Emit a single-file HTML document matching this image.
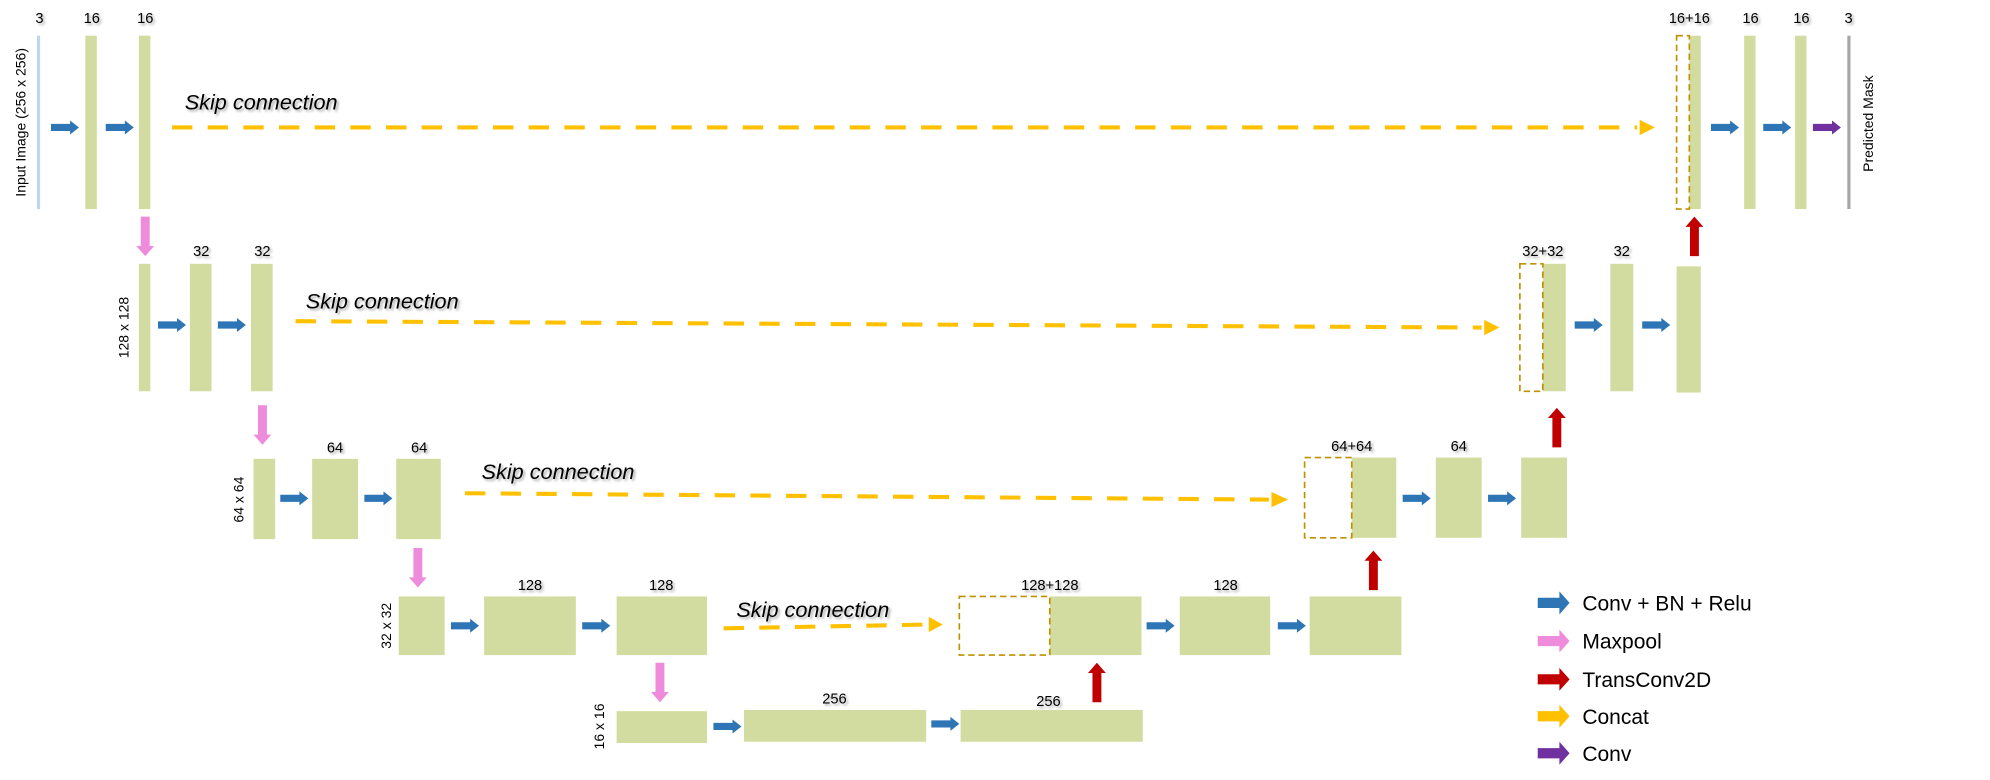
<!DOCTYPE html>
<html><head><meta charset="utf-8"><style>
html,body{margin:0;padding:0;background:#fff;}
svg{display:block;}
text{font-family:"Liberation Sans",sans-serif;}
.l{font-size:11.5px;fill:#000;text-anchor:middle;}
.s{font-size:17px;font-style:italic;fill:#000;}
.g{font-size:16.5px;fill:#000;}
.v{font-size:11px;fill:#000;text-anchor:middle;}
</style></head><body>
<svg width="1990" height="780" viewBox="0 0 1562 612" preserveAspectRatio="none" xmlns="http://www.w3.org/2000/svg">
<defs>
<filter id="sh" x="-5%" y="-20%" width="110%" height="150%"><feDropShadow dx="1.5" dy="1.5" stdDeviation="1" flood-color="#000" flood-opacity="0.35"/></filter>
<polygon id="ha" points="0,-2.8 15,-2.8 15,-5.5 22,0 15,5.5 15,2.8 0,2.8"/>
<polygon id="da" points="-3.5,0 3.5,0 3.5,23 7,23 0,31 -7,23 -3.5,23"/>
<polygon id="ua" points="-3.5,31 3.5,31 3.5,8 7,8 0,0 -7,8 -3.5,8"/>
</defs>
<g fill="#D3DCA0">
<!-- row1 -->
<rect x="67" y="28" width="9" height="136"/><rect x="109" y="28" width="9" height="136"/>
<rect x="1326" y="28" width="9" height="136"/><rect x="1369" y="28" width="9" height="136"/><rect x="1409" y="28" width="9" height="136"/>
<!-- row2 -->
<rect x="109" y="207" width="9" height="100"/><rect x="149" y="207" width="17" height="100"/><rect x="197" y="207" width="17" height="100"/>
<rect x="1211" y="207" width="18" height="100"/><rect x="1264" y="207" width="18" height="100"/><rect x="1316" y="209" width="19" height="99"/>
<!-- row3 -->
<rect x="199" y="360" width="17" height="63"/><rect x="245" y="360" width="36" height="63"/><rect x="311" y="360" width="35" height="63"/>
<rect x="1061" y="359" width="35" height="63"/><rect x="1127" y="359" width="36" height="63"/><rect x="1194" y="359" width="36" height="63"/>
<!-- row4 -->
<rect x="313" y="468" width="36" height="46"/><rect x="380" y="468" width="72" height="46"/><rect x="484" y="468" width="71" height="46"/>
<rect x="824" y="468" width="72" height="46"/><rect x="926" y="468" width="71" height="46"/><rect x="1028" y="468" width="72" height="46"/>
<!-- row5 -->
<rect x="484" y="558" width="71" height="25"/><rect x="584" y="557" width="143" height="25"/><rect x="754" y="557" width="143" height="25"/>
</g>
<!-- input/output lines -->
<rect x="29" y="28" width="2.5" height="136" fill="#BDD7EE"/>
<rect x="1450" y="28" width="2.5" height="136" fill="#A6A6A6"/>
<!-- dashed concat boxes -->
<g fill="none" stroke="#BF9000" stroke-width="1.3" stroke-dasharray="5,3">
<rect x="1316" y="28" width="10" height="136"/>
<rect x="1193" y="207" width="18" height="100"/>
<rect x="1024" y="359" width="37" height="63"/>
<rect x="753" y="468" width="71" height="46"/>
</g>
<!-- skip dashes -->
<g stroke="#FFC000" stroke-width="3.2" stroke-dasharray="16,12" fill="none">
<line x1="135" y1="100" x2="1285" y2="100"/>
<line x1="232" y1="252" x2="1163" y2="257"/>
<line x1="365" y1="387" x2="996" y2="392"/>
<line x1="568" y1="493" x2="728" y2="490"/>
</g>
<g fill="#FFC000">
<polygon points="1287,94 1299,100 1287,106"/>
<polygon points="1165,251 1177,257 1165,263"/>
<polygon points="998,386 1011,392 998,398"/>
<polygon points="729,484 740,490 729,496"/>
</g>
<!-- skip texts -->
<g filter="url(#sh)">
<text class="s" x="145" y="86">Skip connection</text>
<text class="s" x="240" y="242">Skip connection</text>
<text class="s" x="378" y="376">Skip connection</text>
<text class="s" x="578" y="484">Skip connection</text>
</g>
<!-- blue arrows -->
<g fill="#2E75B6">
<use href="#ha" x="40" y="100"/><use href="#ha" x="83" y="100"/>
<use href="#ha" x="1343" y="100"/><use href="#ha" x="1384" y="100"/>
<use href="#ha" x="124" y="255"/><use href="#ha" x="171" y="255"/>
<use href="#ha" x="1236" y="255"/><use href="#ha" x="1289" y="255"/>
<use href="#ha" x="220" y="391"/><use href="#ha" x="286" y="391"/>
<use href="#ha" x="1101" y="391"/><use href="#ha" x="1168" y="391"/>
<use href="#ha" x="354" y="491"/><use href="#ha" x="457" y="491"/>
<use href="#ha" x="900" y="491"/><use href="#ha" x="1003" y="491"/>
<use href="#ha" x="560" y="570"/><use href="#ha" x="731" y="568"/>
</g>
<use href="#ha" x="1423" y="100" fill="#7030A0"/>
<!-- maxpool -->
<g fill="#EE8CDB">
<use href="#da" x="114" y="170"/><use href="#da" x="206" y="318"/>
<use href="#da" x="328" y="430"/><use href="#da" x="518" y="520"/>
</g>
<!-- transconv -->
<g fill="#C00000">
<use href="#ua" x="1330" y="170"/><use href="#ua" x="1222" y="320"/>
<use href="#ua" x="1078" y="432"/><use href="#ua" x="861" y="520"/>
</g>
<!-- channel labels -->
<g filter="url(#sh)">
<text class="l" x="31" y="18">3</text>
<text class="l" x="72" y="18">16</text><text class="l" x="114" y="18">16</text>
<text class="l" x="1326" y="18">16+16</text><text class="l" x="1374" y="18">16</text><text class="l" x="1414" y="18">16</text><text class="l" x="1451" y="18">3</text>
<text class="l" x="158" y="201">32</text><text class="l" x="206" y="201">32</text>
<text class="l" x="1211" y="201">32+32</text><text class="l" x="1273" y="201">32</text>
<text class="l" x="263" y="355">64</text><text class="l" x="329" y="355">64</text>
<text class="l" x="1061" y="354">64+64</text><text class="l" x="1145" y="354">64</text>
<text class="l" x="416" y="463">128</text><text class="l" x="519" y="463">128</text>
<text class="l" x="824" y="463">128+128</text><text class="l" x="962" y="463">128</text>
<text class="l" x="655" y="552">256</text><text class="l" x="823" y="554">256</text>
</g>
<!-- vertical labels -->
<text class="v" transform="translate(20,96) rotate(-90)">Input Image (256 x 256)</text>
<text class="v" transform="translate(101,257) rotate(-90)">128 x 128</text>
<text class="v" transform="translate(191,392) rotate(-90)">64 x 64</text>
<text class="v" transform="translate(307,491) rotate(-90)">32 x 32</text>
<text class="v" transform="translate(474,570) rotate(-90)">16 x 16</text>
<text class="v" transform="translate(1470,97) rotate(-90)">Predicted Mask</text>
<!-- legend -->
<g>
<polygon points="1207,469 1224,469 1224,464 1232,473 1224,482 1224,477 1207,477" fill="#2E75B6"/>
<polygon points="1207,499 1224,499 1224,494 1232,503 1224,512 1224,507 1207,507" fill="#EE8CDB"/>
<polygon points="1207,529 1224,529 1224,524 1232,533 1224,542 1224,537 1207,537" fill="#C00000"/>
<polygon points="1207,558 1224,558 1224,553 1232,562 1224,571 1224,566 1207,566" fill="#FFC000"/>
<polygon points="1207,587 1224,587 1224,582 1232,591 1224,600 1224,595 1207,595" fill="#7030A0"/>
</g>
<text class="g" x="1242" y="479">Conv + BN + Relu</text>
<text class="g" x="1242" y="509">Maxpool</text>
<text class="g" x="1242" y="539">TransConv2D</text>
<text class="g" x="1242" y="568">Concat</text>
<text class="g" x="1242" y="597">Conv</text>
</svg>
</body></html>
